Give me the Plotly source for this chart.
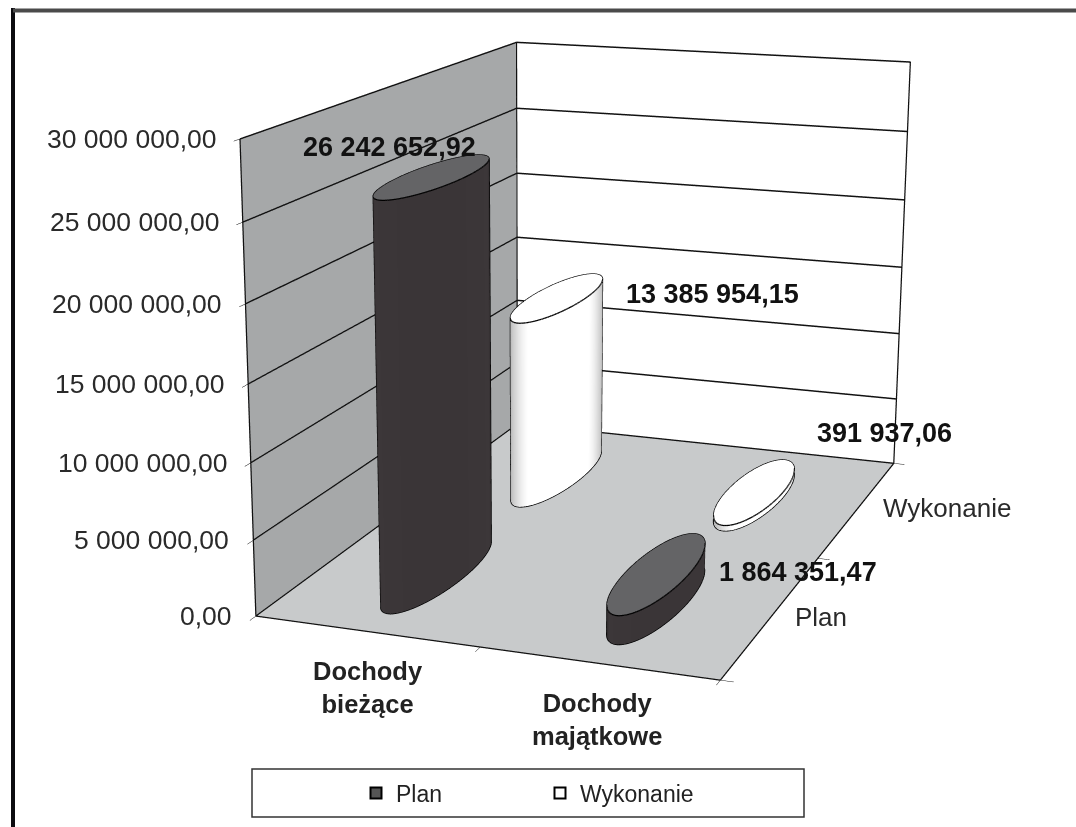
import numpy as np
import plotly.graph_objects as go

categories = ['<b>Dochody<br>bieżące</b>', '<b>Dochody<br>majątkowe</b>']
series_names = ['Plan', 'Wykonanie']
plan_values = [26242652.92, 1864351.47]
wykonanie_values = [13385954.15, 391937.06]
plan_labels = ['26 242 652,92', '1 864 351,47']
wykonanie_labels = ['13 385 954,15', '391 937,06']
z_ticks = [0, 5000000, 10000000, 15000000, 20000000, 25000000, 30000000]
z_tick_labels = ['0,00', '5 000 000,00', '10 000 000,00', '15 000 000,00',
                 '20 000 000,00', '25 000 000,00', '30 000 000,00']

x_range = [0, 2]
y_range = [0, 2]
z_range = [0, 30000000]

# plotly has a fixed 45 degree fov, the chart needs a longer lens:
# the figure is taller than the window and is centred in it at the end of the file
fig_w = 1076
fig_h = 2067
top_cut = (fig_h - 827) // 2

rx, ry = 0.128, 0.357  # promien walca w jednostkach kategorii
silhouette = np.radians(59)
theta = np.linspace(0, 2 * np.pi, 121)
shade = np.abs(np.sin(theta - silhouette))
flat = dict(ambient=1, diffuse=0, specular=0, fresnel=0, roughness=1)
font = 'Liberation Sans'


def paper_x(px):
    return px / fig_w


def paper_y(py):
    return 1 - (py + top_cut) / fig_h


fig = go.Figure()


def add_cylinder(cx, cy, top, scale, cap):
    xs = cx + rx * np.cos(theta)
    ys = cy + ry * np.sin(theta)
    fig.add_trace(go.Surface(x=[xs, xs], y=[ys, ys], z=[0 * xs, 0 * xs + top],
                             surfacecolor=[shade, shade], cmin=0, cmax=1,
                             colorscale=scale, showscale=False,
                             lighting=flat, hoverinfo='skip'))
    rr = np.array([0, 1.0])
    fig.add_trace(go.Surface(x=cx + rx * np.outer(rr, np.cos(theta)),
                             y=cy + ry * np.outer(rr, np.sin(theta)),
                             z=np.full((2, theta.size), top),
                             colorscale=[[0, cap], [1, cap]], showscale=False,
                             lighting=flat, hoverinfo='skip'))
    # obrys: gorna i dolna krawedz + dwie boczne linie
    sx, sy = rx * np.cos(silhouette), ry * np.sin(silhouette)
    lx = [*xs, None, *xs, None, cx + sx, cx + sx, None, cx - sx, cx - sx]
    ly = [*ys, None, *ys, None, cy + sy, cy + sy, None, cy - sy, cy - sy]
    lz = [*(0 * xs + top), None, *(0 * xs), None, 0, top, None, 0, top]
    fig.add_trace(go.Scatter3d(x=lx, y=ly, z=lz, mode='lines', showlegend=False,
                               line=dict(color='black', width=2.5), hoverinfo='skip'))


dark = [[0, '#2c2829'], [0.25, '#3c3739'], [1, '#3a3537']]
light = [[0, '#aeaeae'], [0.45, '#d8d8d8'], [0.75, '#ffffff'], [1, '#ffffff']]
add_cylinder(0.5, 0.5, plan_values[0], dark, '#646466')
add_cylinder(1.5, 0.5, plan_values[1], dark, '#646466')
add_cylinder(0.5, 1.5, wykonanie_values[0], light, '#ffffff')
add_cylinder(1.5, 1.5, wykonanie_values[1], light, '#ffffff')

# ramka scian
x0, x1 = x_range
y0, y1 = y_range
z0, z1 = z_range
fig.add_trace(go.Scatter3d(
    x=[x0, x0, x0, x0, x0, x1, x1, x1, x0, x0, None, x0, x0],
    y=[y0, y0, y1, y1, y0, y0, y1, y1, y1, y1, None, y1, y1],
    z=[z0, z1, z1, z0, z0, z0, z0, z1, z1, z0, None, z0, z1],
    mode='lines', showlegend=False, line=dict(color='#111', width=2.5), hoverinfo='skip'))

# tylko do legendy
fig.add_trace(go.Scatter3d(x=[None], y=[None], z=[None], mode='markers', name=series_names[0],
                           marker=dict(symbol='square', size=11, color='#555',
                                       line=dict(color='black', width=2))))
fig.add_trace(go.Scatter3d(x=[None], y=[None], z=[None], mode='markers', name=series_names[1],
                           marker=dict(symbol='square', size=11, color='white',
                                       line=dict(color='black', width=2))))

ann = []
for v, t in zip(z_ticks, z_tick_labels):
    ann.append(dict(x=0, y=0, z=v, text=t, showarrow=False, xanchor='right', xshift=-22,
                    font=dict(size=26.5, family=font, color='#2a2a2a')))

cat_shifts = [(2, -56), (-1, -56)]
for i, c in enumerate(categories):
    ann.append(dict(x=i + 0.5, y=0, z=0, text=c, showarrow=False,
                    xshift=cat_shifts[i][0], yshift=cat_shifts[i][1],
                    font=dict(size=25.5, family=font, color='#222')))

series_shifts = [(49, -2), (89, 0)]
for i, c in enumerate(series_names):
    ann.append(dict(x=2, y=i + 0.5, z=0, text=c, showarrow=False,
                    xshift=series_shifts[i][0], yshift=series_shifts[i][1],
                    font=dict(size=26, family=font, color='#2a2a2a')))

plan_shifts = [(-44, 30), (140, 1)]
wykonanie_shifts = [(155, 4), (129, 58)]
for j, (vals, labs, shifts) in enumerate([(plan_values, plan_labels, plan_shifts),
                                          (wykonanie_values, wykonanie_labels, wykonanie_shifts)]):
    for i in range(2):
        ann.append(dict(x=i + 0.5, y=j + 0.5, z=vals[i], text='<b>%s</b>' % labs[i], showarrow=False,
                        xshift=shifts[i][0], yshift=shifts[i][1],
                        font=dict(size=27, family=font, color='#111')))

fig.update_layout(
    width=fig_w, height=fig_h, margin=dict(l=0, r=0, t=0, b=0),
    paper_bgcolor='white',
    font=dict(family=font, color='#222'),
    showlegend=True,
    legend=dict(orientation='h', x=paper_x(356), y=paper_y(793), xanchor='left', yanchor='middle',
                entrywidth=139, entrywidthmode='pixels', font=dict(size=23), bgcolor='rgba(0,0,0,0)',
                itemclick=False),
    shapes=[
        dict(type='rect', xref='paper', yref='paper', x0=paper_x(252), x1=paper_x(804),
             y0=paper_y(769), y1=paper_y(817), line=dict(color='#333', width=1.5)),
        dict(type='line', xref='paper', yref='paper', x0=paper_x(13), x1=paper_x(13),
             y0=paper_y(8), y1=paper_y(827), line=dict(color='#0c0c10', width=4)),
        dict(type='line', xref='paper', yref='paper', x0=paper_x(13), x1=paper_x(1076),
             y0=paper_y(10.5), y1=paper_y(10.5), line=dict(color='#4a4a4a', width=4)),
    ],
    scene=dict(
        domain=dict(x=[0, 1], y=[0, 1]),
        aspectmode='manual',
        aspectratio=dict(x=1.0, y=1.515, z=0.996),
        camera=dict(eye=dict(x=1.743, y=-5.094, z=1.332), center=dict(x=-0.120, y=-0.106, z=-0.199),
                    up=dict(x=0.002, y=0.001, z=1)),
        annotations=ann,
        xaxis=dict(range=x_range, title=dict(text=''), tickvals=[0, 1, 2], showticklabels=False,
                   ticks='outside', ticklen=10, tickcolor='black', showgrid=False, zeroline=False,
                   showbackground=True, backgroundcolor='#a6a8a9', showspikes=False),
        yaxis=dict(range=y_range, title=dict(text=''), tickvals=[0, 1, 2], showticklabels=False,
                   ticks='outside', ticklen=10, tickcolor='black', showgrid=False, zeroline=False,
                   showbackground=True, backgroundcolor='white', showspikes=False),
        zaxis=dict(range=z_range, title=dict(text=''), tickvals=z_ticks, showticklabels=False,
                   ticks='outside', ticklen=10, tickcolor='black', showgrid=True,
                   gridcolor='#111', gridwidth=3, zeroline=False,
                   showbackground=True, backgroundcolor='#c8cacb', showspikes=False),
    ),
)

shift_js = ("document.documentElement.style.overflow='hidden';"
            "document.body.style.margin='0';document.body.style.overflow='hidden';"
            "document.getElementsByClassName('plotly-graph-div')[0].style.marginTop='-%dpx';" % top_cut)
fig.write_html("out.html", post_script=shift_js)
